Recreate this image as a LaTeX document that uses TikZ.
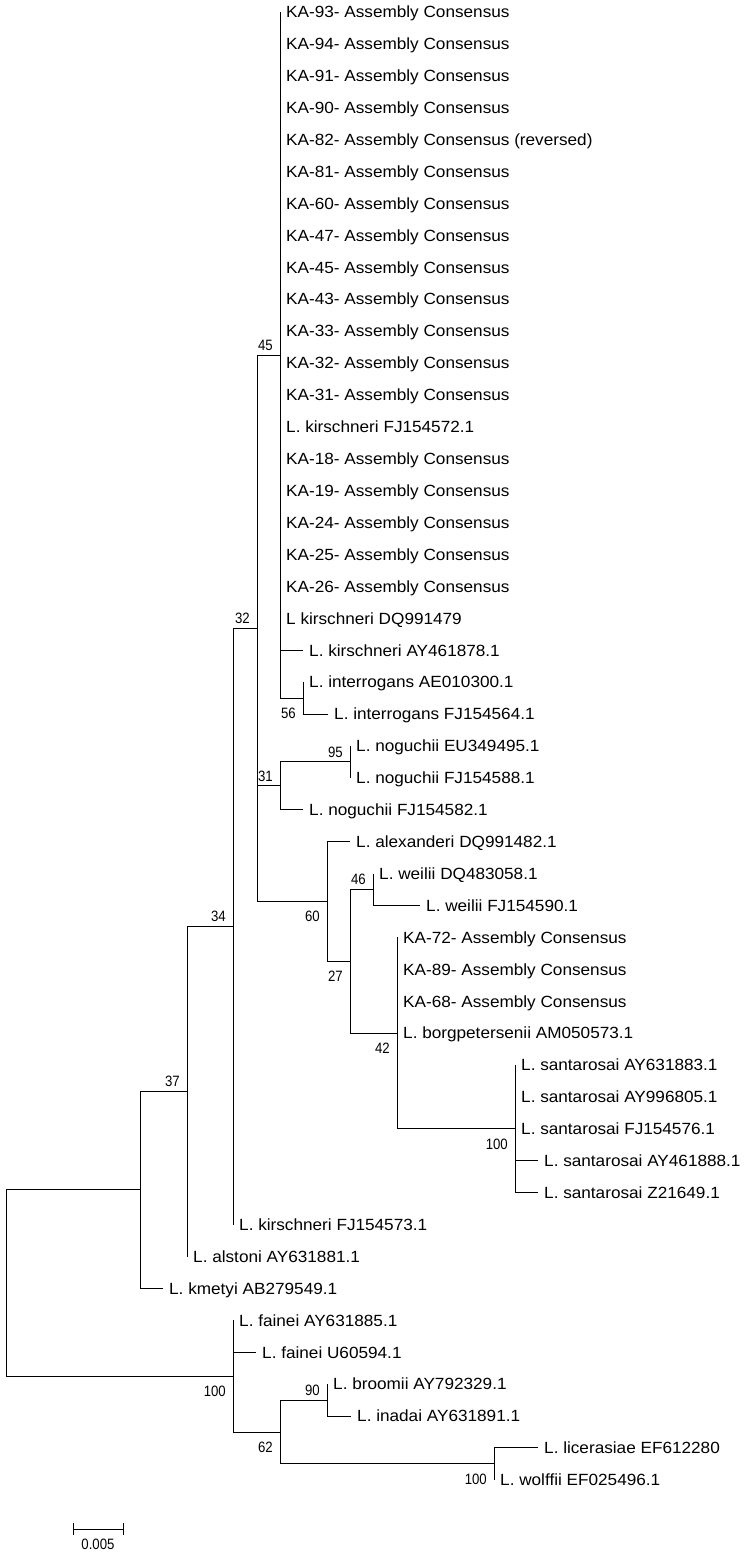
\documentclass[tikz,border=0pt]{standalone}
\usepackage{fontspec}
\setmainfont{Liberation Sans}
\newfontfamily\leaffont[FakeStretch=1.06]{Liberation Sans}
\newfontfamily\bsfont[FakeStretch=0.88]{Liberation Sans}
\tikzset{
  br/.style={line width=1pt, draw=black},
  leaf/.style={anchor=west, inner xsep=6pt, inner ysep=0pt, text height=11.6pt, text depth=0pt,
    font=\leaffont\fontsize{16.2pt}{18pt}\selectfont},
  bsbase/.style={inner sep=0pt, text height=10.7pt, text depth=0pt,
    font=\bsfont\fontsize{15pt}{16pt}\selectfont},
  bsA/.style={bsbase, anchor=south east, xshift=-7pt, yshift=4.5pt},
  bsB/.style={bsbase, anchor=north east, xshift=-7pt, yshift=-9.5pt},
}
\begin{document}
\begin{tikzpicture}
\fill[white] (0pt,0pt) rectangle (747pt,-1555pt);
\begin{scope}[x=1pt, y=-31.91pt, yshift=-12pt]
% leaves
\foreach \n/\x/\t in {
  0/280/KA-93- Assembly Consensus,
  1/280/KA-94- Assembly Consensus,
  2/280/KA-91- Assembly Consensus,
  3/280/KA-90- Assembly Consensus,
  4/280/KA-82- Assembly Consensus (reversed),
  5/280/KA-81- Assembly Consensus,
  6/280/KA-60- Assembly Consensus,
  7/280/KA-47- Assembly Consensus,
  8/280/KA-45- Assembly Consensus,
  9/280/KA-43- Assembly Consensus,
  10/280/KA-33- Assembly Consensus,
  11/280/KA-32- Assembly Consensus,
  12/280/KA-31- Assembly Consensus,
  13/280/L. kirschneri FJ154572.1,
  14/280/KA-18- Assembly Consensus,
  15/280/KA-19- Assembly Consensus,
  16/280/KA-24- Assembly Consensus,
  17/280/KA-25- Assembly Consensus,
  18/280/KA-26- Assembly Consensus,
  19/280/L kirschneri DQ991479,
  20/303/L. kirschneri AY461878.1,
  21/303/L. interrogans AE010300.1,
  22/328/L. interrogans FJ154564.1,
  23/350/L. noguchii EU349495.1,
  24/350/L. noguchii FJ154588.1,
  25/303/L. noguchii FJ154582.1,
  26/350/L. alexanderi DQ991482.1,
  27/373/L. weilii DQ483058.1,
  28/420/L. weilii FJ154590.1,
  29/397/KA-72- Assembly Consensus,
  30/397/KA-89- Assembly Consensus,
  31/397/KA-68- Assembly Consensus,
  32/397/L. borgpetersenii AM050573.1,
  33/515/L. santarosai AY631883.1,
  34/515/L. santarosai AY996805.1,
  35/515/L. santarosai FJ154576.1,
  36/538/L. santarosai AY461888.1,
  37/538/L. santarosai Z21649.1,
  38/233/L. kirschneri FJ154573.1,
  39/187/L. alstoni AY631881.1,
  40/163/L. kmetyi AB279549.1,
  41/233/L. fainei AY631885.1,
  42/256/L. fainei U60594.1,
  43/327/L. broomii AY792329.1,
  44/351/L. inadai AY631891.1,
  45/538/L. licerasiae EF612280,
  46/494/L. wolffii EF025496.1}{
  \coordinate (L\n) at (\x,\n);
  \node[leaf] (T\n) at (L\n) {\t};
}
% internal nodes
\coordinate (n56) at (303,21.5);
\coordinate (n45) at (280,10.75);
\coordinate (n95) at (350,23.5);
\coordinate (n31) at (280,24.25);
\coordinate (n46) at (373,27.5);
\coordinate (n100s) at (515,35);
\coordinate (n42) at (397,32);
\coordinate (n27) at (350,29.75);
\coordinate (n60) at (327,27.875);
\coordinate (n32) at (257,19.3125);
\coordinate (n34) at (233,28.65625);
\coordinate (n37) at (187,33.828125);
\coordinate (nA) at (140,36.9140625);
\coordinate (n90) at (327,43.5);
\coordinate (nLW) at (494,45.5);
\coordinate (n62) at (280,44.5);
\coordinate (nF) at (233,42.75);
\coordinate (root) at (6,39.83203125);
% branches
\foreach \p/\c in {root/nA, root/nF, nA/n37, nA/L40, n37/n34, n37/L39, n34/n32, n34/L38,
  n32/n45, n32/n31, n32/n60, n45/n56, n56/L21, n56/L22, n31/n95, n31/L25, n95/L23, n95/L24,
  n60/L26, n60/n27, n27/n46, n27/n42, n46/L27, n46/L28, n42/n100s,
  nF/L41, nF/L42, nF/n62, n62/n90, n62/nLW, n90/L43, n90/L44, nLW/L45, nLW/L46}{
  \draw[br] (\p) |- (\c);
}
\foreach \i in {0,...,20}{\draw[br] (n45) |- (L\i);}
\foreach \i in {29,...,32}{\draw[br] (n42) |- (L\i);}
\foreach \i in {33,...,37}{\draw[br] (n100s) |- (L\i);}
% bootstrap values
\node[bsA] (b45) at (n45) {45};
\node[bsA] (b32) at (n32) {32};
\node[bsB] (b56) at (n56) {56};
\node[bsA] (b95) at (n95) {95};
\node[bsA] (b31) at (n31) {31};
\node[bsA] (b46) at (n46) {46};
\node[bsB] (b60) at (n60) {60};
\node[bsA] (b34) at (n34) {34};
\node[bsB] (b27) at (n27) {27};
\node[bsB] (b42) at (n42) {42};
\node[bsA] (b37) at (n37) {37};
\node[bsB] (b100s) at (n100s) {100};
\node[bsB] (b100F) at (nF) {100};
\node[bsB] (b62) at (n62) {62};
\node[bsA] (b90) at (n90) {90};
\node[bsB] (b100LW) at (nLW) {100};
\end{scope}
% scale bar
\coordinate (sbL) at (73pt,-1529pt);
\coordinate (sbR) at (123pt,-1529pt);
\draw[br] (sbL) -- (sbR);
\draw[br] ([yshift=6pt]sbL) -- ([yshift=-6pt]sbL);
\draw[br] ([yshift=6pt]sbR) -- ([yshift=-6pt]sbR);
\node[bsbase, anchor=center] (sblab) at (98pt,-1544pt) {0.005};
\end{tikzpicture}
\end{document}
